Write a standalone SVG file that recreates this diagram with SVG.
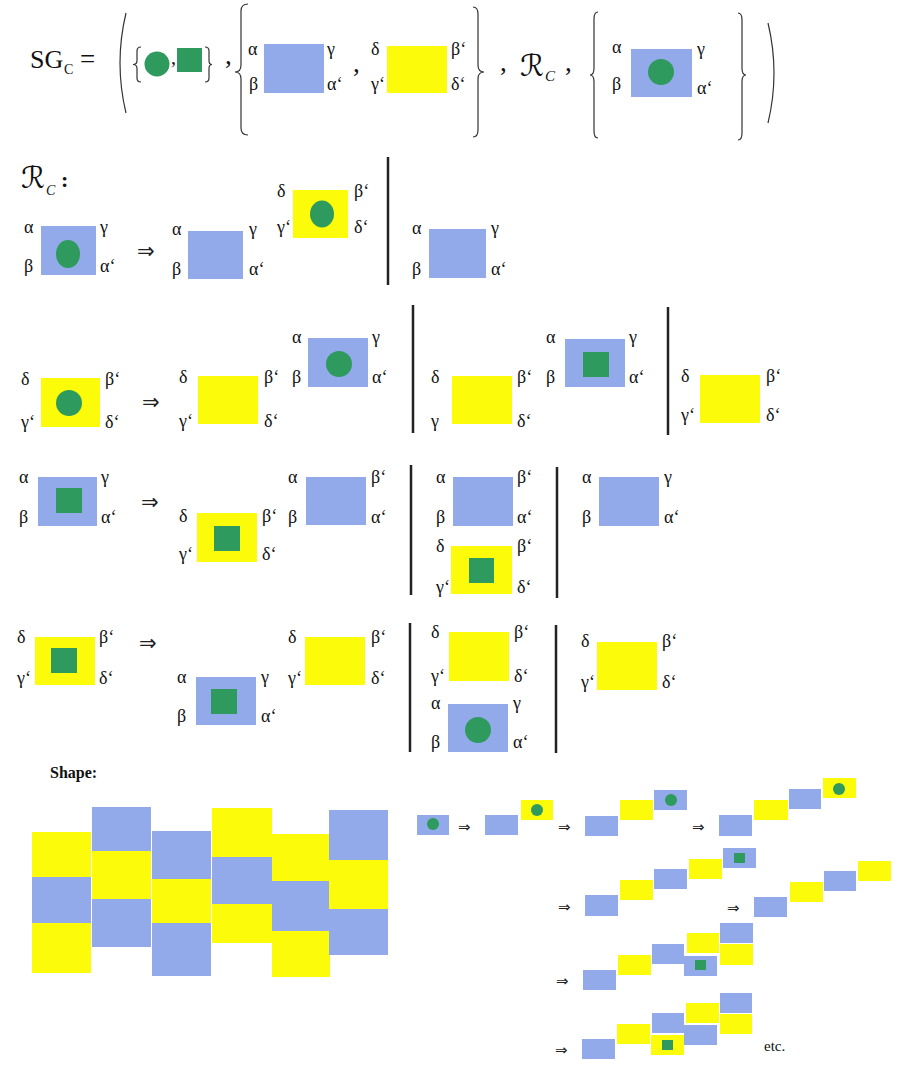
<svg xmlns="http://www.w3.org/2000/svg" width="913" height="1085" viewBox="0 0 913 1085">
<style>
.b{fill:#93aaea}
.y{fill:#fbfb0a}
.g{fill:#2e9a5e}
.l{font-family:"Liberation Serif",serif;font-size:18px;fill:#111}
.m{font-family:"Liberation Serif",serif;fill:#111}
.ar{font-family:"DejaVu Sans",sans-serif;font-size:21px;fill:#222}
.as{font-family:"DejaVu Sans",sans-serif;font-size:15px;fill:#222}
.sr{font-family:"DejaVu Serif","DejaVu Sans",serif;font-style:italic;fill:#111}
.br{fill:none;stroke:#333;stroke-width:1.2}
.sep{stroke:#222;stroke-width:2.5}
</style>
<rect width="913" height="1085" fill="#fff"/>

<g id="header">
<text class="m" x="30" y="68" font-size="26">SG</text>
<text class="m" x="64" y="74" font-size="14">C</text>
<text class="m" x="80" y="68" font-size="27">=</text>
<path class="br" d="M126,13 Q114,63 126,113"/>
<path class="br" d="M141,47 Q137,47 137,51 L137,60.5 Q137,64.5 133,64.5 Q137,64.5 137,68.5 L137,78 Q137,82 141,82"/>
<circle class="g" cx="157" cy="64" r="12.5"/>
<text class="m" x="171" y="64" font-size="20">,</text>
<rect class="g" x="177" y="48" width="25" height="24"/>
<path class="br" d="M205,47 Q209,47 209,51 L209,60.5 Q209,64.5 212,64.5 Q209,64.5 209,68.5 L209,78 Q209,82 205,82"/>
<text class="m" x="225" y="64" font-size="27">,</text>
<path class="br" d="M248,4 Q241,4 241,11 L241,65 Q241,72 235,72 Q241,72 241,79 L241,128 Q241,135 248,135"/>
<text class="m" x="353" y="72" font-size="27">,</text>
<path class="br" d="M473,7 Q478,7 478,14 L478,65 Q478,72 484,72 Q478,72 478,79 L478,130 Q478,137 473,137"/>
<text class="m" x="500" y="71" font-size="27">,</text>
<text class="sr" x="520" y="76" font-size="30">ℛ</text>
<text class="m" x="545" y="81" font-size="15" font-style="italic">C</text>
<text class="m" x="565" y="71" font-size="27">,</text>
<path class="br" d="M598,12 Q594,12 594,19 L594,68 Q594,75 590,75 Q594,75 594,82 L594,131 Q594,138 598,138"/>
<path class="br" d="M738,13 Q742,13 742,20 L742,68 Q742,75 746,75 Q742,75 742,82 L742,133 Q742,140 738,140"/>
<path class="br" d="M768,23 Q780,73 768,123"/>
</g>

<g id="top-blue">
<rect class="b" x="264" y="44" width="60" height="49"/>
<text class="l" x="248" y="55">α</text><text class="l" x="327" y="55">γ</text>
<text class="l" x="249" y="90">β</text><text class="l" x="327" y="90">α‘</text>
</g>
<g id="top-yellow">
<rect class="y" x="387" y="46" width="60" height="47"/>
<text class="l" x="371" y="55">δ</text><text class="l" x="451" y="55">β‘</text>
<text class="l" x="371" y="90">γ‘</text><text class="l" x="451" y="90">δ‘</text>
</g>
<g id="top-start">
<rect class="b" x="631" y="49" width="61" height="48"/>
<circle class="g" cx="661" cy="72" r="13"/>
<text class="l" x="612" y="53">α</text><text class="l" x="697" y="55">γ</text>
<text class="l" x="612" y="90">β</text><text class="l" x="697" y="94">α‘</text>
</g>

<g id="rules-title">
<text class="sr" x="21" y="188" font-size="30">ℛ</text>
<text class="m" x="46" y="195" font-size="14" font-style="italic">C</text>
<text class="m" x="61" y="187" font-size="22" font-weight="bold">:</text>
</g>

<g id="connectors">
<line class="sep" x1="388" y1="157" x2="388" y2="285"/>
<line class="sep" x1="413" y1="305" x2="413" y2="433"/>
<line class="sep" x1="668" y1="307" x2="668" y2="435"/>
<line class="sep" x1="411" y1="465" x2="411" y2="595"/>
<line class="sep" x1="557" y1="467" x2="557" y2="598"/>
<line class="sep" x1="410" y1="623" x2="410" y2="752"/>
<line class="sep" x1="556" y1="625" x2="556" y2="753"/>
<text class="ar" x="137" y="258">⇒</text>
<text class="ar" x="142" y="409">⇒</text>
<text class="ar" x="141" y="509">⇒</text>
<text class="ar" x="139" y="650">⇒</text>
</g>

<!-- Row 1 -->
<g id="r1a">
<rect class="b" x="41" y="226" width="55" height="49"/>
<ellipse class="g" cx="68" cy="254" rx="12" ry="14"/>
<text class="l" x="24" y="233">α</text><text class="l" x="100" y="233">γ</text>
<text class="l" x="24" y="272">β</text><text class="l" x="100" y="272">α‘</text>
</g>
<g id="r1b">
<rect class="b" x="188" y="231" width="55" height="48"/>
<text class="l" x="172" y="235">α</text><text class="l" x="249" y="235">γ</text>
<text class="l" x="172" y="275">β</text><text class="l" x="249" y="275">α‘</text>
</g>
<g id="r1c">
<rect class="y" x="293" y="190" width="55" height="48"/>
<ellipse class="g" cx="322" cy="214" rx="12" ry="13.5"/>
<text class="l" x="277" y="197">δ</text><text class="l" x="354" y="197">β‘</text>
<text class="l" x="277" y="233">γ‘</text><text class="l" x="354" y="233">δ‘</text>
</g>
<g id="r1d">
<rect class="b" x="429" y="229" width="57" height="49"/>
<text class="l" x="412" y="234">α</text><text class="l" x="491" y="234">γ</text>
<text class="l" x="412" y="275">β</text><text class="l" x="491" y="275">α‘</text>
</g>

<!-- Row 2 -->
<g id="r2a">
<rect class="y" x="41" y="378" width="59" height="49"/>
<circle class="g" cx="69" cy="403" r="13"/>
<text class="l" x="21" y="385">δ</text><text class="l" x="105" y="385">β‘</text>
<text class="l" x="21" y="428">γ‘</text><text class="l" x="105" y="428">δ‘</text>
</g>
<g id="r2b">
<rect class="y" x="198" y="376" width="60" height="48"/>
<text class="l" x="179" y="383">δ</text><text class="l" x="264" y="383">β‘</text>
<text class="l" x="179" y="427">γ‘</text><text class="l" x="264" y="427">δ‘</text>
</g>
<g id="r2c">
<rect class="b" x="308" y="338" width="60" height="49"/>
<circle class="g" cx="339" cy="364" r="13"/>
<text class="l" x="292" y="343">α</text><text class="l" x="372" y="343">γ</text>
<text class="l" x="292" y="383">β</text><text class="l" x="372" y="383">α‘</text>
</g>
<g id="r2d">
<rect class="y" x="452" y="376" width="60" height="48"/>
<text class="l" x="431" y="383">δ</text><text class="l" x="517" y="383">β‘</text>
<text class="l" x="431" y="427">γ</text><text class="l" x="517" y="427">δ‘</text>
</g>
<g id="r2e">
<rect class="b" x="565" y="339" width="60" height="48"/>
<rect class="g" x="583" y="352" width="26" height="25"/>
<text class="l" x="546" y="343">α</text><text class="l" x="629" y="343">γ</text>
<text class="l" x="546" y="383">β</text><text class="l" x="629" y="383">α‘</text>
</g>
<g id="r2f">
<rect class="y" x="700" y="375" width="60" height="48"/>
<text class="l" x="681" y="382">δ</text><text class="l" x="766" y="382">β‘</text>
<text class="l" x="681" y="421">γ‘</text><text class="l" x="766" y="421">δ‘</text>
</g>

<!-- Row 3 -->
<g id="r3a">
<rect class="b" x="38" y="477" width="59" height="49"/>
<rect class="g" x="56" y="488" width="26" height="25"/>
<text class="l" x="19" y="483">α</text><text class="l" x="101" y="483">γ</text>
<text class="l" x="19" y="523">β</text><text class="l" x="101" y="523">α‘</text>
</g>
<g id="r3b">
<rect class="y" x="197" y="513" width="60" height="49"/>
<rect class="g" x="214" y="526" width="26" height="25"/>
<text class="l" x="179" y="522">δ</text><text class="l" x="262" y="522">β‘</text>
<text class="l" x="179" y="560">γ‘</text><text class="l" x="262" y="560">δ‘</text>
</g>
<g id="r3c">
<rect class="b" x="306" y="477" width="60" height="48"/>
<text class="l" x="288" y="483">α</text><text class="l" x="371" y="483">β‘</text>
<text class="l" x="288" y="523">β</text><text class="l" x="371" y="523">α‘</text>
</g>
<g id="r3d">
<rect class="b" x="453" y="477" width="60" height="49"/>
<text class="l" x="436" y="483">α</text><text class="l" x="517" y="483">β‘</text>
<text class="l" x="436" y="523">β</text><text class="l" x="517" y="523">α‘</text>
</g>
<g id="r3e">
<rect class="y" x="451" y="546" width="61" height="48"/>
<rect class="g" x="469" y="558" width="25" height="25"/>
<text class="l" x="436" y="552">δ</text><text class="l" x="517" y="552">β‘</text>
<text class="l" x="436" y="593">γ‘</text><text class="l" x="517" y="593">δ‘</text>
</g>
<g id="r3f">
<rect class="b" x="599" y="477" width="60" height="49"/>
<text class="l" x="582" y="483">α</text><text class="l" x="664" y="483">γ</text>
<text class="l" x="582" y="523">β</text><text class="l" x="664" y="523">α‘</text>
</g>

<!-- Row 4 -->
<g id="r4a">
<rect class="y" x="35" y="637" width="60" height="48"/>
<rect class="g" x="51" y="648" width="26" height="25"/>
<text class="l" x="17" y="643">δ</text><text class="l" x="99" y="643">β‘</text>
<text class="l" x="17" y="684">γ‘</text><text class="l" x="99" y="684">δ‘</text>
</g>
<g id="r4b">
<rect class="b" x="196" y="677" width="60" height="48"/>
<rect class="g" x="211" y="689" width="26" height="25"/>
<text class="l" x="177" y="683">α</text><text class="l" x="261" y="683">γ</text>
<text class="l" x="177" y="722">β</text><text class="l" x="261" y="722">α‘</text>
</g>
<g id="r4c">
<rect class="y" x="305" y="637" width="60" height="48"/>
<text class="l" x="288" y="643">δ</text><text class="l" x="371" y="643">β‘</text>
<text class="l" x="288" y="684">γ‘</text><text class="l" x="371" y="684">δ‘</text>
</g>
<g id="r4d">
<rect class="y" x="449" y="632" width="60" height="49"/>
<text class="l" x="431" y="638">δ</text><text class="l" x="514" y="638">β‘</text>
<text class="l" x="431" y="682">γ‘</text><text class="l" x="514" y="682">δ‘</text>
</g>
<g id="r4e">
<rect class="b" x="448" y="704" width="60" height="48"/>
<circle class="g" cx="478" cy="730" r="13"/>
<text class="l" x="431" y="709">α</text><text class="l" x="513" y="709">γ</text>
<text class="l" x="431" y="748">β</text><text class="l" x="513" y="748">α‘</text>
</g>
<g id="r4f">
<rect class="y" x="597" y="642" width="60" height="48"/>
<text class="l" x="581" y="647">δ</text><text class="l" x="662" y="647">β‘</text>
<text class="l" x="581" y="688">γ‘</text><text class="l" x="662" y="688">δ‘</text>
</g>

<!-- Shape -->
<g id="shape">
<text class="m" x="50" y="778" font-size="16" font-weight="bold">Shape:</text>
<rect class="y" x="32" y="832" width="59" height="45"/>
<rect class="b" x="32" y="877" width="59" height="46"/>
<rect class="y" x="32" y="923" width="59" height="50"/>
<rect class="b" x="92" y="807" width="59" height="44"/>
<rect class="y" x="92" y="851" width="59" height="48"/>
<rect class="b" x="92" y="899" width="59" height="48"/>
<rect class="b" x="152" y="831" width="59" height="48"/>
<rect class="y" x="152" y="879" width="59" height="44"/>
<rect class="b" x="152" y="923" width="59" height="53"/>
<rect class="y" x="212" y="808" width="60" height="49"/>
<rect class="b" x="212" y="857" width="60" height="47"/>
<rect class="y" x="212" y="904" width="60" height="39"/>
<rect class="y" x="272" y="834" width="58" height="47"/>
<rect class="b" x="272" y="881" width="58" height="50"/>
<rect class="y" x="272" y="931" width="58" height="46"/>
<rect class="b" x="329" y="810" width="59" height="50"/>
<rect class="y" x="329" y="860" width="59" height="49"/>
<rect class="b" x="329" y="909" width="59" height="46"/>
</g>

<!-- Growth sequence -->
<g id="seq-a">
<rect class="b" x="417" y="815" width="32" height="20"/>
<circle class="g" cx="433" cy="824" r="6"/>
<text class="as" x="458" y="832">⇒</text>
<rect class="b" x="485" y="815" width="33" height="20"/>
<rect class="y" x="521" y="800" width="32" height="20"/>
<circle class="g" cx="537" cy="810" r="6"/>
<text class="as" x="558" y="832">⇒</text>
<rect class="b" x="585" y="816" width="33" height="20"/>
<rect class="y" x="620" y="800" width="33" height="20"/>
<rect class="b" x="654" y="790" width="33" height="20"/>
<circle class="g" cx="671" cy="800" r="6"/>
<text class="as" x="692" y="832">⇒</text>
<rect class="b" x="719" y="815" width="33" height="21"/>
<rect class="y" x="754" y="800" width="34" height="20"/>
<rect class="b" x="789" y="789" width="32" height="20"/>
<rect class="y" x="823" y="778" width="33" height="20"/>
<circle class="g" cx="839" cy="789" r="6"/>
</g>
<g id="seq-b">
<text class="as" x="558" y="912">⇒</text>
<rect class="b" x="585" y="895" width="33" height="21"/>
<rect class="y" x="620" y="880" width="33" height="20"/>
<rect class="b" x="654" y="869" width="33" height="20"/>
<rect class="y" x="689" y="859" width="33" height="20"/>
<rect class="b" x="723" y="848" width="33" height="20"/>
<rect class="g" x="734" y="853" width="11" height="10"/>
<text class="as" x="727" y="913">⇒</text>
<rect class="b" x="754" y="897" width="33" height="20"/>
<rect class="y" x="790" y="882" width="33" height="20"/>
<rect class="b" x="824" y="871" width="32" height="20"/>
<rect class="y" x="858" y="861" width="33" height="20"/>
</g>
<g id="seq-c">
<text class="as" x="556" y="986">⇒</text>
<rect class="b" x="583" y="970" width="33" height="20"/>
<rect class="y" x="618" y="955" width="33" height="20"/>
<rect class="b" x="652" y="944" width="32" height="20"/>
<rect class="y" x="687" y="933" width="32" height="20"/>
<rect class="b" x="684" y="956" width="33" height="20"/>
<rect class="g" x="695" y="960" width="11" height="10"/>
<rect class="b" x="720" y="923" width="33" height="20"/>
<rect class="y" x="720" y="944" width="33" height="21"/>
</g>
<g id="seq-d">
<text class="as" x="555" y="1055">⇒</text>
<rect class="b" x="582" y="1039" width="33" height="20"/>
<rect class="y" x="617" y="1024" width="33" height="20"/>
<rect class="b" x="652" y="1013" width="32" height="20"/>
<rect class="y" x="686" y="1003" width="33" height="20"/>
<rect class="b" x="684" y="1025" width="33" height="20"/>
<rect class="y" x="651" y="1035" width="33" height="20"/>
<rect class="g" x="662" y="1040" width="11" height="10"/>
<rect class="b" x="720" y="993" width="32" height="20"/>
<rect class="y" x="720" y="1014" width="32" height="20"/>
<text class="m" x="764" y="1051" font-size="15">etc.</text>
</g>
</svg>
